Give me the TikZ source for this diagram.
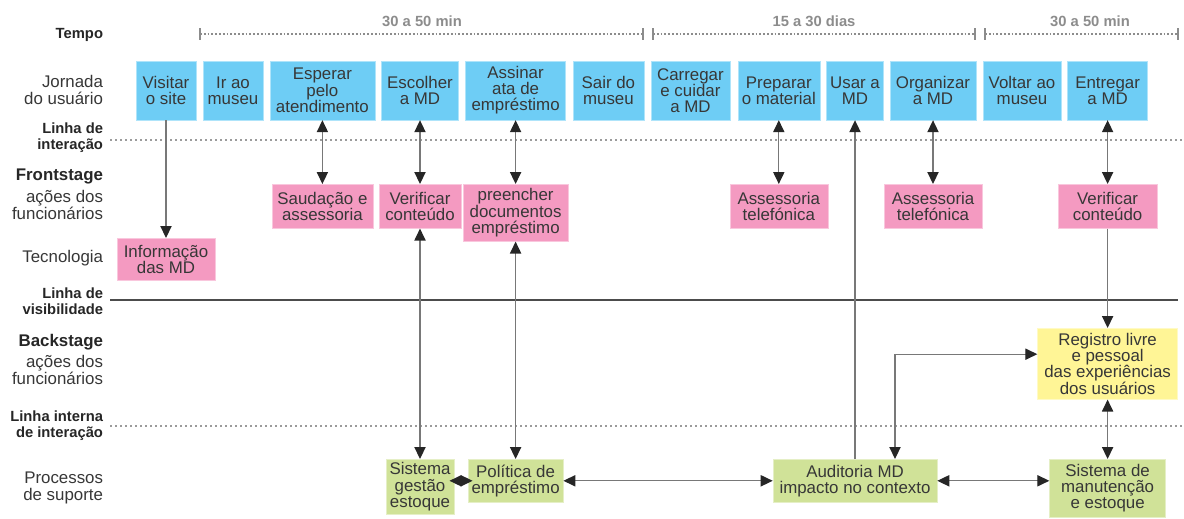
\documentclass[tikz,border=0pt]{standalone}
\usepackage{fontspec}
\setmainfont{Liberation Sans}
\usetikzlibrary{arrows.meta,positioning,calc}
\definecolor{journeycolor}{RGB}{110, 205, 245}
\definecolor{frontcolor}{RGB}{244, 154, 193}
\definecolor{backcolor}{RGB}{255, 245, 150}
\definecolor{supportcolor}{RGB}{208, 226, 152}
\definecolor{linecolor}{RGB}{120, 120, 120}
\definecolor{dotcolor}{RGB}{155, 155, 155}
\definecolor{labelcolor}{RGB}{55, 55, 55}
\newcommand{\cellfont}{\fontsize{12}{11.5}\selectfont}
\newcommand{\lanefont}{\bfseries\fontsize{10.5}{11.5}\selectfont}

\begin{document}
\begin{tikzpicture}[
    cell/.style={rectangle, inner sep=1pt, align=center, text=labelcolor, font=\cellfont, line width=0.4pt},
    journey/.style={cell, fill=journeycolor, draw=journeycolor!55!white, minimum height=1.475cm},
    front/.style={cell, anchor=north, fill=frontcolor, draw=frontcolor!55!white, minimum height=1.1cm},
    back/.style={cell, anchor=north, fill=backcolor, draw=backcolor!55!white},
    support/.style={cell, anchor=north, fill=supportcolor, draw=supportcolor!55!white},
    lane/.style={anchor=east, align=right, inner sep=0.5pt, text=labelcolor, font=\cellfont},
    lanebold/.style={anchor=east, align=right, inner sep=0.5pt, text=black!85, font=\lanefont},
    period/.style={text=black!45, font=\lanefont},
    arrow/.style={-{Triangle[length=0.3cm, width=0.28cm, color=black!85]}, line width=0.9pt, draw=linecolor},
    twoway/.style={{Triangle[length=0.3cm, width=0.28cm, color=black!85]}-{Triangle[length=0.3cm, width=0.28cm, color=black!85]}, line width=0.9pt, draw=linecolor},
    dots/.style={draw=dotcolor, line width=0.06cm, dash pattern=on 0.06cm off 0.065cm},
    tick/.style={draw=black!45, line width=0.04cm}
]
    \useasboundingbox (0,0) rectangle (29.6,-12.95);

    % Time bar
    \node[period] (t1) at (10.55, -0.52) {30 a 50 min};
    \node[period] (t2) at (20.35, -0.52) {15 a 30 dias};
    \node[period] (t3) at (27.25, -0.52) {30 a 50 min};
    \foreach \a/\b in {5.0/16.075, 16.325/24.375, 24.625/29.45} {
        \draw[draw=black!45, line width=0.045cm, dash pattern=on 0.045cm off 0.05cm] (\a, -0.85) -- (\b, -0.85);
        \draw[tick] (\a, -0.71) -- (\a, -0.99);
        \draw[tick] (\b, -0.71) -- (\b, -0.99);
    }

    % Lane labels
    \node[lanebold] (tempo) at (2.6, -0.875) {Tempo};
    \node[lane] (jornada) at (2.6, -2.25) {Jornada\\do usuário};
    \node[lanebold] (linha1) at (2.6, -3.45) {Linha de\\interação};
    \node[lanebold, font=\bfseries\fontsize{12}{12}\selectfont] (frontstage) at (2.6, -4.4) {Frontstage};
    \node[lane] (acoes1) at (2.6, -5.125) {ações dos\\funcionários};
    \node[lane] (tecnologia) at (2.6, -6.45) {Tecnologia};
    \node[lanebold] (linha2) at (2.6, -7.525) {Linha de\\visibilidade};
    \node[lanebold, font=\bfseries\fontsize{12}{12}\selectfont] (backstage) at (2.6, -8.55) {Backstage};
    \node[lane] (acoes2) at (2.6, -9.25) {ações dos\\funcionários};
    \node[lanebold] (linha3) at (2.6, -10.65) {Linha interna\\de interação};
    \node[lane] (processos) at (2.6, -12.2) {Processos\\de suporte};

    % Separating lines
    \draw[dots] (2.75, -3.5) -- (29.6, -3.5);
    \draw[draw=black!70, line width=0.05cm] (2.75, -7.51) -- (29.45, -7.51);
    \draw[dots] (2.75, -10.65) -- (29.6, -10.65);

    % User journey
    \node[journey, minimum width=1.5cm] (visit) at (4.15, -2.26) {Visitar\\o site};
    \node[journey, minimum width=1.5cm] (go) at (5.825, -2.26) {Ir ao\\museu};
    \node[journey, minimum width=2.625cm] (wait) at (8.06, -2.26) {Esperar\\pelo\\atendimento};
    \node[journey, minimum width=1.925cm] (choose) at (10.5, -2.26) {Escolher\\a MD};
    \node[journey, minimum width=2.5cm] (sign) at (12.89, -2.26) {Assinar\\ata de\\empréstimo};
    \node[journey, minimum width=1.775cm] (leave) at (15.21, -2.26) {Sair do\\museu};
    \node[journey, minimum width=1.975cm] (carry) at (17.26, -2.26) {Carregar\\e cuidar\\a MD};
    \node[journey, minimum width=2.05cm] (prepare) at (19.47, -2.26) {Preparar\\o material};
    \node[journey, minimum width=1.425cm] (use) at (21.375, -2.26) {Usar a\\MD};
    \node[journey, minimum width=2.15cm] (organize) at (23.325, -2.26) {Organizar\\a MD};
    \node[journey, minimum width=1.95cm] (return) at (25.55, -2.26) {Voltar ao\\museu};
    \node[journey, minimum width=2cm] (deliver) at (27.69, -2.26) {Entregar\\a MD};

    % Frontstage staff actions
    \node[front, minimum width=2.525cm] (greet) at (8.06, -4.6) {Saudação e\\assessoria};
    \node[front, minimum width=2.05cm] (check) at (10.5, -4.6) {Verificar\\conteúdo};
    \node[front, minimum width=2.625cm, minimum height=1.425cm] (fill) at (12.89, -4.6) {preencher\\documentos\\empréstimo};
    \node[front, minimum width=2.45cm] (phone) at (19.47, -4.6) {Assessoria\\telefónica};
    \node[front, minimum width=2.45cm] (phoneb) at (23.325, -4.6) {Assessoria\\telefónica};
    \node[front, minimum width=2.475cm] (checkb) at (27.69, -4.6) {Verificar\\conteúdo};

    % Technology
    \node[front, minimum width=2.45cm, minimum height=1.05cm] (info) at (4.15, -5.95) {Informação\\das MD};

    % Backstage staff actions
    \node[back, minimum width=3.5cm, minimum height=1.775cm] (record) at (27.69, -8.2) {Registro livre\\e pessoal\\das experiências\\dos usuários};

    % Support processes
    \node[support, minimum width=1.7cm, minimum height=1.375cm] (stock) at (10.5, -11.475) {Sistema\\gestão\\estoque};
    \node[support, minimum width=2.375cm, minimum height=1.075cm] (policy) at (12.89, -11.475) {Política de\\empréstimo};
    \node[support, minimum width=4.1cm, minimum height=1.075cm] (audit) at (21.375, -11.475) {Auditoria MD\\impacto no contexto};
    \node[support, minimum width=2.9cm, minimum height=1.45cm] (upkeep) at (27.69, -11.475) {Sistema de\\manutenção\\e estoque};

    % Arrows
    \draw[arrow] (visit) -- (info);
    \draw[twoway] (wait) -- (greet);
    \draw[twoway] (choose) -- (check);
    \draw[twoway] (sign) -- (fill);
    \draw[twoway] (prepare) -- (phone);
    \draw[twoway] (organize) -- (phoneb);
    \draw[twoway] (deliver) -- (checkb);
    \draw[twoway] (check) -- (stock);
    \draw[twoway] (fill) -- (policy);
    \draw[arrow] (audit) -- (use);
    \draw[arrow] (checkb) -- (record);
    \draw[twoway] (record) -- (upkeep);
    \draw[twoway] ([xshift=1cm]audit.north) |- ([yshift=0.24cm]record.west);
    \draw[twoway, shorten <=-0.12cm, shorten >=-0.12cm] (stock.east |- policy) -- (policy);
    \draw[twoway] (policy) -- (audit);
    \draw[twoway] (audit) -- (audit -| upkeep.west);
\end{tikzpicture}
\end{document}
